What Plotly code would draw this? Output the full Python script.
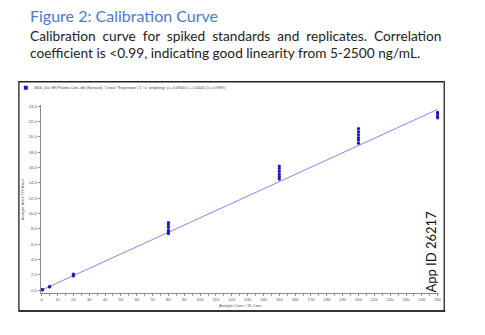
import plotly.graph_objects as go

# Calibration levels (analyte conc / IS conc) and replicate response ratios
level_x = [0.5, 0.5, 0.5, 5, 5, 20, 20, 20,
           80, 80, 80, 80, 80, 80,
           150, 150, 150, 150, 150, 150,
           200, 200, 200, 200, 200, 200,
           250, 250, 250, 250]
area_ratio = [0.04, 0.06, 0.08, 0.42, 0.46, 1.85, 1.98, 2.1,
              7.4, 7.6, 7.8, 8.2, 8.5, 8.8,
              14.5, 14.8, 15.1, 15.5, 15.9, 16.2,
              19.2, 19.6, 19.9, 20.3, 20.7, 21.1,
              22.5, 22.7, 23.0, 23.2]

# Regression (1/x weighting) coefficients
slope = 0.0944
intercept = 0.005
fit_x = [0, 250]
fit_y = [intercept + slope * v for v in fit_x]

x_ticks = list(range(0, 251, 10))
y_ticks = [i * 2.0 for i in range(13)]

W, H = 485, 335


def px(x):
    return x / W


def py(y):
    return 1 - y / H


fig = go.Figure()
fig.add_trace(go.Scatter(x=fit_x, y=fit_y, mode="lines",
                         line=dict(color="#8585f2", width=1),
                         hoverinfo="skip", showlegend=False))
fig.add_trace(go.Scatter(x=level_x, y=area_ratio, mode="markers",
                         marker=dict(color="#1c1cc0", size=3.3, symbol="circle"),
                         showlegend=False))

axis_font = dict(family="Liberation Sans", size=4.2, color="#555555")
fig.update_xaxes(domain=[px(41), px(442)], range=[-0.6, 251],
                 tickvals=x_ticks, ticktext=[str(v) for v in x_ticks],
                 showgrid=False, zeroline=False, showline=True,
                 linecolor="#8a8a8a", linewidth=1,
                 ticks="outside", ticklen=2, tickcolor="#8a8a8a",
                 minor=dict(ticks="outside", ticklen=1.5, dtick=5, tickcolor="#9a9a9a"),
                 tickfont=axis_font)
fig.update_yaxes(domain=[py(293), py(104)], range=[-0.39, 24.22],
                 tickvals=y_ticks, tickformat=".1f",
                 showgrid=False, zeroline=False, showline=True,
                 linecolor="#8a8a8a", linewidth=1,
                 ticks="outside", ticklen=2, tickcolor="#8a8a8a",
                 tickfont=axis_font)

# Frame around the chart panel
fig.add_shape(type="rect", xref="paper", yref="paper",
              x0=px(19), x1=px(447), y0=py(311), y1=py(81),
              line=dict(color="#222222", width=1.3), fillcolor="rgba(0,0,0,0)")
fig.add_shape(type="line", xref="paper", yref="paper",
              x0=px(19), x1=px(448), y0=py(311), y1=py(311),
              line=dict(color="#333333", width=2))
# Legend swatch
fig.add_shape(type="rect", xref="paper", yref="paper",
              x0=px(24), x1=px(28), y0=py(89), y1=py(85),
              line=dict(width=0), fillcolor="#1c1cc0")

annotations = [
    dict(text="Figure 2: Calibration Curve", x=px(28), y=py(15),
         font=dict(family="Lato", size=16, color="#4a7bc6")),
    dict(text="Calibration&nbsp; curve&nbsp; for&nbsp; spiked&nbsp; standards&nbsp; and&nbsp; replicates.&nbsp; Correlation",
         x=px(28), y=py(35), font=dict(family="Lato", size=13.7, color="#222222")),
    dict(text="coefficient is <0.99, indicating good linearity from 5-2500 ng/mL.",
         x=px(28), y=py(52), font=dict(family="Lato", size=13.7, color="#222222")),
    dict(text='4656_Doc MS Plasma Conc.rdb (Synovial): "Linear" Regression ("1 / x" weighting): y = 0.09440 x + 0.00051 (r = 0.9987)',
         x=px(32), y=py(87), font=dict(family="Liberation Sans", size=3.6, color="#444444")),
    dict(text="Analyte Conc / IS Conc", x=px(242), y=py(305), xanchor="center",
         font=dict(family="Liberation Sans", size=4.2, color="#555555")),
]
for a in annotations:
    a.setdefault("xanchor", "left")
    fig.add_annotation(xref="paper", yref="paper", yanchor="middle",
                       showarrow=False, **a)

fig.add_annotation(text="Analyte Area / IS Area", xref="paper", yref="paper",
                   x=px(23), y=py(199), textangle=-90, showarrow=False,
                   xanchor="center", yanchor="middle",
                   font=dict(family="Liberation Sans", size=4.2, color="#555555"))
fig.add_annotation(text="App ID 26217", xref="paper", yref="paper",
                   x=px(434), y=py(251), textangle=-90, showarrow=False,
                   xanchor="center", yanchor="middle",
                   font=dict(family="Lato", size=13, color="#111111"))

fig.update_layout(width=W, height=H, margin=dict(l=0, r=0, t=0, b=0),
                  paper_bgcolor="white", plot_bgcolor="white")

fig.write_html("out.html")
